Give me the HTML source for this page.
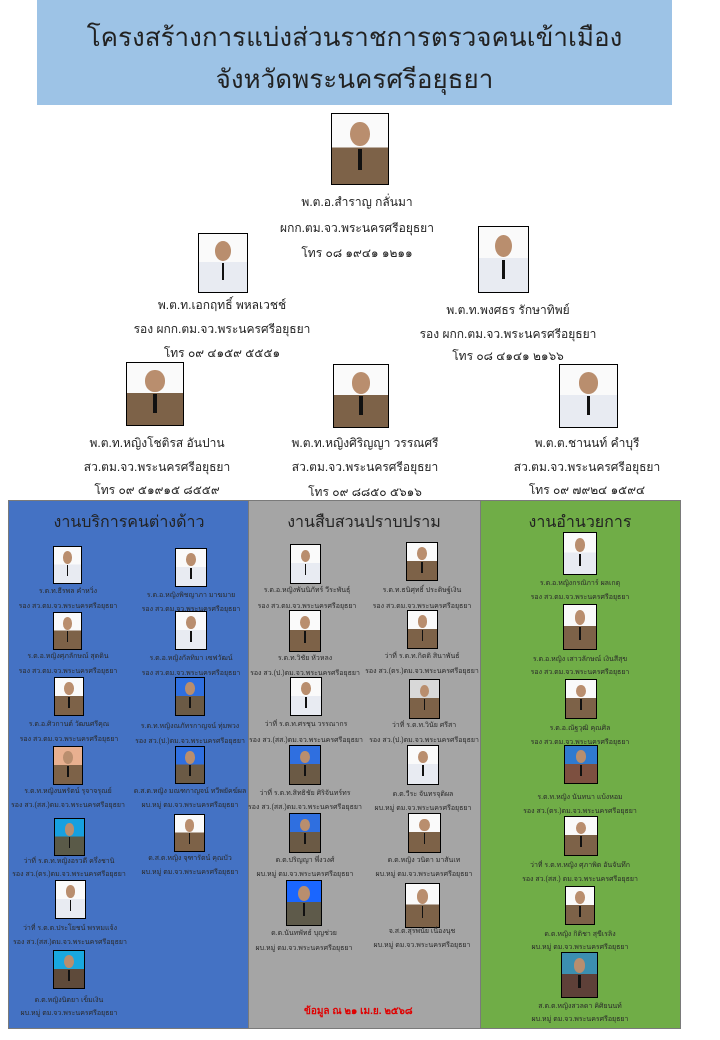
<!DOCTYPE html>
<html><head><meta charset="utf-8">
<style>
body{margin:0;width:720px;height:1040px;background:#fff;position:relative;overflow:hidden;font-family:"Liberation Sans","DejaVu Sans",sans-serif;color:#222}
.hd{position:absolute;left:37px;top:0;width:635px;height:105px;background:#9dc3e6;text-align:center;font-size:26px;line-height:42px;padding-top:16px;box-sizing:border-box;color:#222}
.col{position:absolute;top:500px;height:529px;box-sizing:border-box;border:1.5px solid #7a7a7a}
.ct{position:absolute;font-size:16px;text-align:center;width:220px}
.p{position:absolute;border:1.5px solid #000;box-sizing:border-box;background:linear-gradient(#fafafa 0 48%,#7d6248 48%);overflow:hidden}
.p::before{content:"";position:absolute;left:33%;top:12%;width:34%;height:34%;border-radius:50%;background:#b98e6e}
.p::after{content:"";position:absolute;left:47%;top:50%;width:6%;height:30%;background:#111}
.w{background:linear-gradient(#fafafa 0 48%,#e8ebf2 48%)}
.b{background:linear-gradient(#2f6fe0 0 48%,#6b5a45 48%)}
.t{position:absolute;width:200px;text-align:center;font-size:7px;white-space:nowrap;color:#2a2a2a}
.big{position:absolute;width:300px;text-align:center;font-size:12px;white-space:nowrap;color:#222}
.red{position:absolute;color:#e00000;font-size:10px;font-weight:bold}
</style></head><body>
<div class="hd">โครงสร้างการแบ่งส่วนราชการตรวจคนเข้าเมือง<br>จังหวัดพระนครศรีอยุธยา</div>

<div class="p" style="left:331px;top:113px;width:58px;height:72px"></div>
<div class="big" style="left:207px;top:193px">พ.ต.อ.สำราญ  กลั่นมา</div>
<div class="big" style="left:207px;top:219px">ผกก.ตม.จว.พระนครศรีอยุธยา</div>
<div class="big" style="left:207px;top:244px">โทร ๐๘ ๑๙๔๑ ๑๒๑๑</div>

<div class="p w" style="left:198px;top:233px;width:50px;height:60px"></div>
<div class="big" style="left:72px;top:296px">พ.ต.ท.เอกฤทธิ์  พหลเวชช์</div>
<div class="big" style="left:72px;top:320px">รอง ผกก.ตม.จว.พระนครศรีอยุธยา</div>
<div class="big" style="left:72px;top:344px">โทร ๐๙ ๔๑๕๙ ๕๕๕๑</div>

<div class="p w" style="left:478px;top:226px;width:51px;height:67px"></div>
<div class="big" style="left:358px;top:301px">พ.ต.ท.พงศธร  รักษาทิพย์</div>
<div class="big" style="left:358px;top:325px">รอง ผกก.ตม.จว.พระนครศรีอยุธยา</div>
<div class="big" style="left:358px;top:347px">โทร ๐๘ ๔๑๔๑ ๒๑๖๖</div>

<div class="p" style="left:126px;top:362px;width:58px;height:64px"></div>
<div class="big" style="left:7px;top:434px">พ.ต.ท.หญิงโชติรส อันปาน</div>
<div class="big" style="left:7px;top:458px">สว.ตม.จว.พระนครศรีอยุธยา</div>
<div class="big" style="left:7px;top:481px">โทร ๐๙ ๕๑๙๑๕ ๘๕๕๙</div>

<div class="p" style="left:333px;top:364px;width:56px;height:64px"></div>
<div class="big" style="left:215px;top:434px">พ.ต.ท.หญิงศิริญญา  วรรณศรี</div>
<div class="big" style="left:215px;top:458px">สว.ตม.จว.พระนครศรีอยุธยา</div>
<div class="big" style="left:215px;top:483px">โทร ๐๙ ๘๘๕๐ ๕๖๑๖</div>

<div class="p w" style="left:559px;top:364px;width:59px;height:64px"></div>
<div class="big" style="left:437px;top:434px">พ.ต.ต.ชานนท์  คำบุรี</div>
<div class="big" style="left:437px;top:458px">สว.ตม.จว.พระนครศรีอยุธยา</div>
<div class="big" style="left:437px;top:481px">โทร ๐๙ ๗๙๒๔ ๑๕๙๔</div>

<div class="col" style="left:8px;width:241px;background:#4472c4"></div>
<div class="col" style="left:248px;width:233px;background:#a5a5a5"></div>
<div class="col" style="left:480px;width:201px;background:#70ad47"></div>

<div class="ct" style="left:19px;top:510px">งานบริการคนต่างด้าว</div>
<div class="ct" style="left:254px;top:510px">งานสืบสวนปราบปราม</div>
<div class="ct" style="left:470px;top:510px">งานอำนวยการ</div>

<!-- blue column -->
<div class="p w" style="left:53px;top:546px;width:29px;height:38px"></div>
<div class="t" style="left:-32px;top:586px">ร.ต.ท.ธีรพล  คำหวิ่ง</div>
<div class="t" style="left:-32px;top:601px">รอง สว.ตม.จว.พระนครศรีอยุธยา</div>
<div class="p w" style="left:175px;top:548px;width:32px;height:39px"></div>
<div class="t" style="left:91px;top:590px">ร.ต.อ.หญิงพิชญาภา  มาฆมาย</div>
<div class="t" style="left:91px;top:604px">รอง สว.ตม.จว.พระนครศรีอยุธยา</div>

<div class="p" style="left:53px;top:612px;width:29px;height:38px"></div>
<div class="t" style="left:-32px;top:651px">ร.ต.อ.หญิงศุภลักษณ์  สุดดิน</div>
<div class="t" style="left:-32px;top:666px">รอง สว.ตม.จว.พระนครศรีอยุธยา</div>
<div class="p w" style="left:175px;top:611px;width:32px;height:39px"></div>
<div class="t" style="left:91px;top:653px">ร.ต.อ.หญิงกัลทิมา  เซฟวัฒน์</div>
<div class="t" style="left:91px;top:668px">รอง สว.ตม.จว.พระนครศรีอยุธยา</div>

<div class="p" style="left:54px;top:677px;width:30px;height:39px"></div>
<div class="t" style="left:-31px;top:719px">ร.ต.อ.ศิวกานต์  วัฒนศรีคุณ</div>
<div class="t" style="left:-31px;top:734px">รอง สว.ตม.จว.พระนครศรีอยุธยา</div>
<div class="p b" style="left:175px;top:677px;width:30px;height:39px"></div>
<div class="t" style="left:90px;top:721px">ร.ต.ท.หญิงณภัทรกาญจน์ ทุ่มพวง</div>
<div class="t" style="left:90px;top:736px">รอง สว.(ป.)ตม.จว.พระนครศรีอยุธยา</div>

<div class="p" style="left:53px;top:746px;width:30px;height:39px;background:linear-gradient(#e8b090 0 48%,#7d6248 48%)"></div>
<div class="t" style="left:-32px;top:786px">ร.ต.ท.หญิงนพรัตน์  รุจาจรุณย์</div>
<div class="t" style="left:-32px;top:800px">รอง สว.(สส.)ตม.จว.พระนครศรีอยุธยา</div>
<div class="p b" style="left:175px;top:746px;width:30px;height:38px"></div>
<div class="t" style="left:90px;top:786px">ด.ส.ต.หญิง มณฑกาญจน์ ทวีพยัคฆ์ผล</div>
<div class="t" style="left:90px;top:800px">ผบ.หมู่ ตม.จว.พระนครศรีอยุธยา</div>

<div class="p b" style="left:54px;top:818px;width:31px;height:38px;background:linear-gradient(#16a0e0 0 48%,#5a5a48 48%)"></div>
<div class="t" style="left:-31px;top:856px">ว่าที่ ร.ต.ท.หญิงอรวดี  ครึ่งชานิ</div>
<div class="t" style="left:-31px;top:869px">รอง สว.(ตร.)ตม.จว.พระนครศรีอยุธยา</div>
<div class="p" style="left:174px;top:814px;width:31px;height:38px"></div>
<div class="t" style="left:90px;top:853px">ด.ส.ต.หญิง จุฑารัตน์ คุณบัว</div>
<div class="t" style="left:90px;top:867px">ผบ.หมู่ ตม.จว.พระนครศรีอยุธยา</div>

<div class="p w" style="left:55px;top:880px;width:31px;height:39px"></div>
<div class="t" style="left:-30px;top:923px">ว่าที่ ร.ต.ต.ประโยชน์  พรหมแจ้ง</div>
<div class="t" style="left:-30px;top:937px">รอง สว.(สส.)ตม.จว.พระนครศรีอยุธยา</div>

<div class="p b" style="left:53px;top:950px;width:32px;height:39px;background:linear-gradient(#18a8e0 0 48%,#5e4a3a 48%)"></div>
<div class="t" style="left:-31px;top:995px">ด.ต.หญิงนิตยา  เข็มเงิน</div>
<div class="t" style="left:-31px;top:1008px">ผบ.หมู่ ตม.จว.พระนครศรีอยุธยา</div>

<!-- gray column -->
<div class="p w" style="left:290px;top:544px;width:31px;height:40px"></div>
<div class="t" style="left:207px;top:585px">ร.ต.อ.หญิงพันนิภัทร์  วีระพันธุ์</div>
<div class="t" style="left:207px;top:601px">รอง สว.ตม.จว.พระนครศรีอยุธยา</div>
<div class="p" style="left:406px;top:542px;width:32px;height:39px"></div>
<div class="t" style="left:322px;top:585px">ร.ต.ท.ธนิศุทธิ์  ประดิษฐ์เงิน</div>
<div class="t" style="left:322px;top:601px">รอง สว.ตม.จว.พระนครศรีอยุธยา</div>

<div class="p" style="left:289px;top:610px;width:32px;height:42px"></div>
<div class="t" style="left:205px;top:653px">ร.ต.ท.วิชัย  หัวหลง</div>
<div class="t" style="left:205px;top:668px">รอง สว.(ป.)ตม.จว.พระนครศรีอยุธยา</div>
<div class="p" style="left:407px;top:610px;width:31px;height:39px"></div>
<div class="t" style="left:322px;top:651px">ว่าที่ ร.ต.ท.กิตติ  สินาพันธ์</div>
<div class="t" style="left:322px;top:666px">รอง สว.(ตร.)ตม.จว.พระนครศรีอยุธยา</div>

<div class="p w" style="left:290px;top:677px;width:32px;height:39px"></div>
<div class="t" style="left:206px;top:719px">ว่าที่ ร.ต.ท.ศรชุน  วรรณากร</div>
<div class="t" style="left:206px;top:735px">รอง สว.(สส.)ตม.จว.พระนครศรีอยุธยา</div>
<div class="p" style="left:409px;top:679px;width:31px;height:40px;background:linear-gradient(#d8d8d8 0 48%,#7d6248 48%)"></div>
<div class="t" style="left:324px;top:720px">ว่าที่ ร.ต.ท.วินัย  ศรีสา</div>
<div class="t" style="left:324px;top:735px">รอง สว.(ป.)ตม.จว.พระนครศรีอยุธยา</div>

<div class="p b" style="left:289px;top:745px;width:32px;height:40px"></div>
<div class="t" style="left:205px;top:788px">ว่าที่ ร.ต.ท.สิทธิชัย  ศิริจันทร์ทร</div>
<div class="t" style="left:205px;top:802px">รอง สว.(สส.)ตม.จว.พระนครศรีอยุธยา</div>
<div class="p w" style="left:407px;top:745px;width:32px;height:40px"></div>
<div class="t" style="left:323px;top:789px">ด.ต.วีระ  จันทรจุติผล</div>
<div class="t" style="left:323px;top:803px">ผบ.หมู่ ตม.จว.พระนครศรีอยุธยา</div>

<div class="p b" style="left:289px;top:813px;width:32px;height:40px"></div>
<div class="t" style="left:205px;top:855px">ด.ต.ปริญญา  พึ่งวงศ์</div>
<div class="t" style="left:205px;top:869px">ผบ.หมู่ ตม.จว.พระนครศรีอยุธยา</div>
<div class="p" style="left:408px;top:813px;width:33px;height:40px"></div>
<div class="t" style="left:324px;top:855px">ด.ต.หญิง วนิดา มาสันเท</div>
<div class="t" style="left:324px;top:869px">ผบ.หมู่ ตม.จว.พระนครศรีอยุธยา</div>

<div class="p b" style="left:286px;top:880px;width:36px;height:46px;background:linear-gradient(#1a66ff 0 48%,#5e5a4a 48%)"></div>
<div class="t" style="left:204px;top:928px">ด.ต.นันทพัทธ์  บุญช่วย</div>
<div class="t" style="left:204px;top:943px">ผบ.หมู่ ตม.จว.พระนครศรีอยุธยา</div>
<div class="p" style="left:405px;top:883px;width:35px;height:45px"></div>
<div class="t" style="left:322px;top:926px">จ.ส.ต.สุรพนัย เนื่องนุช</div>
<div class="t" style="left:322px;top:940px">ผบ.หมู่ ตม.จว.พระนครศรีอยุธยา</div>

<div class="red" style="left:304px;top:1004px">ข้อมูล ณ ๒๑ เม.ย. ๒๕๖๘</div>

<!-- green column -->
<div class="p w" style="left:563px;top:532px;width:34px;height:43px"></div>
<div class="t" style="left:480px;top:578px">ร.ต.อ.หญิงกรณิการ์  ผลเกตุ</div>
<div class="t" style="left:480px;top:592px">รอง สว.ตม.จว.พระนครศรีอยุธยา</div>
<div class="p" style="left:563px;top:604px;width:34px;height:46px"></div>
<div class="t" style="left:480px;top:654px">ร.ต.อ.หญิง เสาวลักษณ์ เงินสีสุข</div>
<div class="t" style="left:480px;top:667px">รอง สว.ตม.จว.พระนครศรีอยุธยา</div>
<div class="p" style="left:565px;top:679px;width:32px;height:40px"></div>
<div class="t" style="left:480px;top:723px">ร.ต.อ.ณัฐวุฒิ  คุณศิล</div>
<div class="t" style="left:480px;top:737px">รอง สว.ตม.จว.พระนครศรีอยุธยา</div>
<div class="p b" style="left:564px;top:745px;width:34px;height:39px;background:linear-gradient(#2f7ad0 0 48%,#7d5040 48%)"></div>
<div class="t" style="left:480px;top:792px">ร.ต.ท.หญิง นันทนา  แบ้งหอม</div>
<div class="t" style="left:480px;top:806px">รอง สว.(ตร.)ตม.จว.พระนครศรีอยุธยา</div>
<div class="p" style="left:564px;top:816px;width:34px;height:40px"></div>
<div class="t" style="left:480px;top:860px">ว่าที่ ร.ต.ท.หญิง ศุภาพิต  อันจันทึก</div>
<div class="t" style="left:480px;top:874px">รอง สว.(สส.) ตม.จว.พระนครศรีอยุธยา</div>
<div class="p" style="left:565px;top:886px;width:30px;height:39px"></div>
<div class="t" style="left:480px;top:929px">ด.ต.หญิง กิติชา  สุขีเรลิง</div>
<div class="t" style="left:480px;top:942px">ผบ.หมู่ ตม.จว.พระนครศรีอยุธยา</div>
<div class="p" style="left:561px;top:952px;width:37px;height:46px;background:linear-gradient(#3c8fb0 0 48%,#5e4038 48%)"></div>
<div class="t" style="left:480px;top:1001px">ส.ต.ต.หญิงสวลดา  คิศิยนนท์</div>
<div class="t" style="left:480px;top:1014px">ผบ.หมู่ ตม.จว.พระนครศรีอยุธยา</div>
</body></html>
